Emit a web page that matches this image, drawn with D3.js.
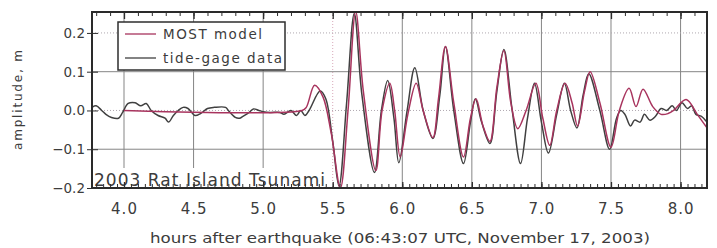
<!DOCTYPE html>
<html>
<head>
<meta charset="utf-8">
<script src="https://cdn.jsdelivr.net/npm/d3@7"></script>
<style>
    body { margin: 0; background: #fff; }
    svg { display: block; font-family: "DejaVu Sans", Verdana, sans-serif; }
</style>
</head>
<body>
<svg id="chart" width="717" height="248"></svg>
<script>
// MOST model, hours after earthquake / amplitude in m
const modelTime = [4.00, 5.28, 5.31, 5.37, 5.43, 5.49, 5.555, 5.61, 5.665, 5.72, 5.81, 5.855, 5.91, 5.945, 5.985,
    6.04, 6.10, 6.15, 6.22, 6.26, 6.31, 6.37, 6.44, 6.49, 6.53, 6.58, 6.63, 6.68, 6.73, 6.78, 6.83, 6.89, 6.96,
    7.01, 7.06, 7.11, 7.17, 7.22, 7.26, 7.31, 7.35, 7.42, 7.50, 7.56, 7.63, 7.68, 7.73, 7.80, 7.86, 7.91, 7.95,
    8.04, 8.12, 8.19];
const modelAmp = [0, 0, 0.008, 0.065, 0.035, -0.06, -0.2, 0.0, 0.255, 0.05, -0.155, 0.0, 0.07, 0.0, -0.12,
    -0.01, 0.07, 0.0, -0.07, 0.03, 0.165, 0.02, -0.12, -0.02, 0.03, -0.04, -0.08, 0.06, 0.155, 0.02, -0.047, 0.0, 0.07,
    -0.02, -0.09, 0.0, 0.07, 0.02, -0.04, 0.05, 0.10, 0.02, -0.095, 0.0, 0.057, 0.01, 0.055, 0.01, -0.01, -0.008, 0.0,
    0.028, -0.01, -0.045];

// tide-gage record
const gageTime = [3.77, 3.80, 3.84, 3.87, 3.91, 3.96, 3.99, 4.03, 4.08, 4.12, 4.16, 4.195, 4.245, 4.295, 4.32,
    4.355, 4.39, 4.425, 4.46, 4.51, 4.55, 4.60, 4.65, 4.73, 4.75, 4.80, 4.83, 4.855, 4.90, 4.93, 4.97, 5.00, 5.05,
    5.12, 5.15, 5.20, 5.24, 5.27, 5.30, 5.33, 5.41, 5.45, 5.50, 5.545, 5.60, 5.655, 5.71, 5.80, 5.85, 5.895, 5.94,
    5.975, 6.035, 6.09, 6.15, 6.22, 6.27, 6.31, 6.37, 6.44, 6.49, 6.525, 6.57, 6.63, 6.68, 6.73, 6.79, 6.85, 6.90,
    6.95, 7.00, 7.05, 7.11, 7.165, 7.21, 7.255, 7.30, 7.34, 7.42, 7.49, 7.54, 7.57, 7.60, 7.64, 7.67, 7.71, 7.74,
    7.78, 7.82, 7.86, 7.90, 7.94, 7.97, 8.01, 8.05, 8.08, 8.11, 8.15, 8.19];
const gageAmp = [0.008, 0.012, 0.0, -0.01, -0.018, -0.02, -0.005, 0.018, 0.02, 0.012, 0.018, 0.0, -0.013, -0.02, -0.03,
    -0.013, 0.0, 0.008, 0.005, -0.013, -0.008, 0.005, 0.008, 0.008, 0.0, -0.018, -0.02, -0.015, -0.005, 0.004, 0.0, -0.003, -0.005,
    -0.005, -0.01, 0.0, -0.013, 0.0, -0.013, 0.0, 0.05, 0.03, -0.08, -0.195, 0.02, 0.25, 0.04, -0.16, 0.0, 0.077, -0.02,
    -0.135, 0.0, 0.11, 0.0, -0.072, 0.04, 0.165, 0.0, -0.137, -0.03, 0.03, -0.03, -0.085, 0.05, 0.157, 0.0, -0.137, -0.02,
    0.07, -0.03, -0.11, -0.01, 0.07, 0.0, -0.045, 0.04, 0.095, 0.0, -0.1, -0.02, 0.0, -0.01, -0.04, -0.025, -0.03, -0.01,
    -0.025, -0.015, 0.005, 0.0, 0.012, 0.0, 0.02, 0.005, 0.012, -0.01, -0.015, -0.03];

const xTicks = [4.0, 4.5, 5.0, 5.5, 6.0, 6.5, 7.0, 7.5, 8.0];
const yTicks = [-0.2, -0.1, 0.0, 0.1, 0.2];
const seriesNames = ['MOST model', 'tide-gage data'];

const modelColor = '#a8345e';
const gageColor = '#404040';
const textColor = '#3c3c3c';
const font = '"DejaVu Sans", Verdana, sans-serif';

const margin = { left: 92, right: 10, top: 12, bottom: 60 };
const width = 717, height = 248;

const svg = d3.select('#chart');

const x = d3.scaleLinear().domain([3.77, 8.19]).range([margin.left, width - margin.right]);
const y = d3.scaleLinear().domain([-0.2, 0.254]).range([height - margin.bottom, margin.top]);

const [x0, x1] = x.range();
const [y0, y1] = y.range();

svg.append('defs').append('clipPath').attr('id', 'plot-clip')
    .append('rect').attr('x', x0).attr('y', y1).attr('width', x1 - x0).attr('height', y0 - y1);

// grid
const grid = svg.append('g');
grid.selectAll('.vgrid').data(xTicks).enter().append('line')
    .attr('x1', d => x(d)).attr('x2', d => x(d)).attr('y1', y1).attr('y2', y0)
    .attr('stroke', d => d === 5.5 ? '#d9a9b9' : '#858585')
    .attr('stroke-width', 1)
    .attr('stroke-dasharray', d => d === 5.5 ? '1,2' : null);
grid.selectAll('.hgrid').data(yTicks.filter(d => d > -0.2)).enter().append('line')
    .attr('x1', x0).attr('x2', x1).attr('y1', d => y(d)).attr('y2', d => y(d))
    .attr('stroke', d => Math.abs(d) === 0.1 ? '#858585' : '#b0a8b0')
    .attr('stroke-width', 1)
    .attr('stroke-dasharray', d => Math.abs(d) === 0.1 ? null : '1,2');

// series
const line = d3.line()
    .x(d => x(d[0])).y(d => y(d[1]))
    .curve(d3.curveCatmullRom.alpha(0.5));
const plot = svg.append('g').attr('clip-path', 'url(#plot-clip)');

plot.append('path')
    .datum(d3.zip(gageTime, gageAmp))
    .attr('d', line)
    .attr('fill', 'none')
    .attr('stroke', gageColor)
    .attr('stroke-width', 1.5)
    .attr('stroke-linejoin', 'round');

plot.append('path')
    .datum(d3.zip(modelTime, modelAmp))
    .attr('d', line)
    .attr('fill', 'none')
    .attr('stroke', modelColor)
    .attr('stroke-width', 1.5)
    .attr('stroke-linejoin', 'round');

// in-plot title
svg.append('rect')
    .attr('x', x0 + 1).attr('y', 168).attr('width', 235).attr('height', y0 - 168)
    .attr('fill', '#fff');
svg.append('text')
    .attr('x', x0 + 2).attr('y', 186)
    .attr('font-size', 17).attr('fill', textColor)
    .attr('textLength', 231).attr('lengthAdjust', 'spacing')
    .text('2003 Rat Island Tsunami');

// legend
const legend = svg.append('g').attr('transform', 'translate(118,22)');
legend.append('rect')
    .attr('width', 167).attr('height', 48)
    .attr('fill', '#fff').attr('stroke', '#2e2e2e').attr('stroke-width', 1.5);
legend.selectAll('.entry').data(seriesNames).enter().append('g')
    .attr('transform', (d, i) => `translate(0,${12 + i * 24})`)
    .each(function (d, i) {
        const g = d3.select(this);
        g.append('line')
            .attr('x1', 7).attr('x2', 38).attr('y1', 0).attr('y2', 0)
            .attr('stroke', i === 0 ? modelColor : gageColor).attr('stroke-width', 1.3);
        g.append('text')
            .attr('x', 45).attr('y', 5)
            .attr('font-size', 13.5).attr('fill', textColor)
            .attr('textLength', i === 0 ? 99 : 119).attr('lengthAdjust', 'spacing')
            .text(d);
    });

// frame
svg.append('rect')
    .attr('x', x0).attr('y', y1).attr('width', x1 - x0).attr('height', y0 - y1)
    .attr('fill', 'none').attr('stroke', '#2a2a2a').attr('stroke-width', 2);

// top axis: inward ticks
const topMinor = d3.range(38, 82).map(i => i / 10);
svg.append('g')
    .attr('transform', `translate(0,${y1})`)
    .call(d3.axisTop(x).tickValues(topMinor).tickSize(-4).tickFormat(''))
    .call(g => g.select('.domain').remove())
    .call(g => g.selectAll('line').attr('stroke', '#2e2e2e'));
svg.append('g')
    .attr('transform', `translate(0,${y1})`)
    .call(d3.axisTop(x).tickValues(xTicks).tickSize(-7).tickFormat(''))
    .call(g => g.select('.domain').remove())
    .call(g => g.selectAll('line').attr('stroke', '#2e2e2e').attr('stroke-width', 1.3));

// bottom axis
const bottomMinor = d3.range(76, 164).map(i => i / 20);
svg.append('g')
    .attr('transform', `translate(0,${y0})`)
    .call(d3.axisBottom(x).tickValues(bottomMinor).tickSize(-4).tickFormat(''))
    .call(g => g.select('.domain').remove())
    .call(g => g.selectAll('line').attr('stroke', '#2e2e2e'));
svg.append('g')
    .attr('transform', `translate(0,${y0})`)
    .call(d3.axisBottom(x).tickValues(xTicks).tickSize(-6).tickPadding(15).tickFormat(d3.format('.1f')))
    .call(g => g.select('.domain').remove())
    .call(g => g.selectAll('line').attr('stroke', '#2e2e2e').attr('stroke-width', 1.3))
    .call(g => g.selectAll('text')
        .attr('font-size', 15).attr('fill', textColor)
        .attr('font-family', font)
        .attr('letter-spacing', 1));

// left axis
svg.append('g')
    .attr('transform', `translate(${x0},0)`)
    .call(d3.axisLeft(y).tickValues(yTicks).tickSizeInner(5).tickSizeOuter(0).tickPadding(3).tickFormat(d3.format('.1f')))
    .call(g => g.select('.domain').remove())
    .call(g => g.selectAll('line').attr('stroke', '#2e2e2e').attr('x2', 6).attr('x1', -5))
    .call(g => g.selectAll('text')
        .attr('x', -7)
        .attr('font-size', 13.5).attr('fill', textColor)
        .attr('font-family', font));

// axis titles
svg.append('text')
    .attr('x', 400).attr('y', 243)
    .attr('text-anchor', 'middle')
    .attr('font-size', 14).attr('fill', textColor)
    .attr('textLength', 500).attr('lengthAdjust', 'spacingAndGlyphs')
    .text('hours after earthquake (06:43:07 UTC, November 17, 2003)');

svg.append('text')
    .attr('transform', 'translate(22,100) rotate(-90)')
    .attr('text-anchor', 'middle')
    .attr('font-size', 12).attr('fill', textColor)
    .attr('textLength', 100).attr('lengthAdjust', 'spacing')
    .text('amplitude, m');
</script>
</body>
</html>
